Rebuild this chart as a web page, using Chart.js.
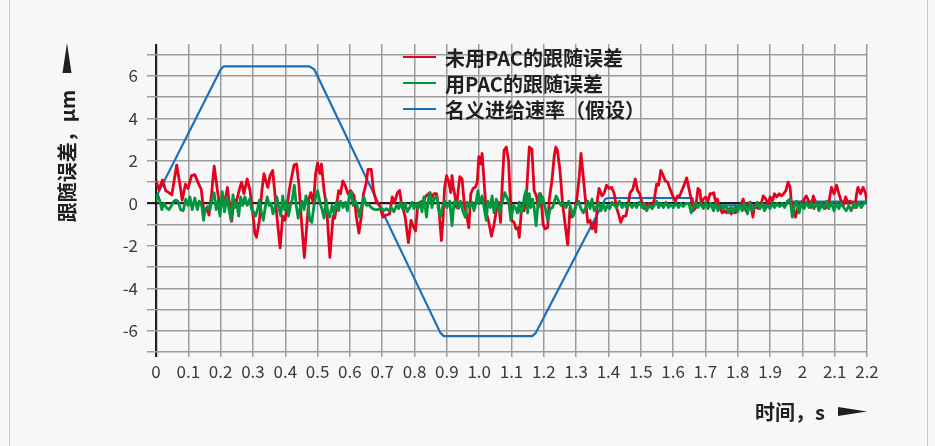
<!DOCTYPE html>
<html>
<head>
<meta charset="utf-8">
<script src="https://cdn.jsdelivr.net/npm/chart.js@4/dist/chart.umd.min.js"></script>
<style>
    html, body { margin: 0; padding: 0; background: #f7f7f7; }
    #wrap { width: 935px; height: 446px; }
</style>
</head>
<body>
<div id="wrap"><canvas id="errChart" width="935" height="446"></canvas></div>
<script>
// axis ticks
const xTickVals = [0, 0.1, 0.2, 0.3, 0.4, 0.5, 0.6, 0.7, 0.8, 0.9, 1.0, 1.1, 1.2, 1.3, 1.4, 1.5, 1.6, 1.7, 1.8, 1.9, 2.0, 2.1, 2.2];
const xTickLabels = ['0', '0.1', '0.2', '0.3', '0.4', '0.5', '0.6', '0.7', '0.8', '0.9', '1.0', '1.1', '1.2', '1.3', '1.4', '1.5', '1.6', '1.7', '1.8', '1.9', '2', '2.1', '2.2'];
const yTickVals = [-7, -6, -5, -4, -3, -2, -1, 0, 1, 2, 3, 4, 5, 6, 7];
const yTickLabels = ['-6', '-4', '-2', '0', '2', '4', '6'];

const seriesNames = ['未用PAC的跟随误差', '用PAC的跟随误差', '名义进给速率（假设）'];
const yTitle = '跟随误差，μm';
const xTitle = '时间，s';

// following error without PAC (time in s, error in µm)
const redT = [0.000, 0.009, 0.020, 0.030, 0.040, 0.049, 0.064, 0.074, 0.081, 0.091, 0.099, 0.110, 0.120, 0.131, 0.140, 0.148, 0.157, 0.164, 0.172, 0.180,
    0.190, 0.199, 0.207, 0.214, 0.221, 0.227, 0.234, 0.241, 0.249, 0.258, 0.265, 0.272, 0.282, 0.291, 0.298, 0.306, 0.311, 0.320, 0.327, 0.334,
    0.340, 0.346, 0.353, 0.361, 0.368, 0.375, 0.384, 0.392, 0.399, 0.406, 0.412, 0.420, 0.427, 0.435, 0.442, 0.451, 0.459, 0.466, 0.473, 0.479,
    0.487, 0.494, 0.500, 0.507, 0.512, 0.520, 0.528, 0.538, 0.548, 0.553, 0.558, 0.565, 0.571, 0.578, 0.585, 0.594, 0.602, 0.613, 0.620, 0.628,
    0.635, 0.642, 0.650, 0.656, 0.666, 0.673, 0.682, 0.692, 0.702, 0.713, 0.723, 0.731, 0.738, 0.747, 0.754, 0.759, 0.764, 0.771, 0.781, 0.789,
    0.798, 0.803, 0.809, 0.816, 0.826, 0.836, 0.847, 0.854, 0.860, 0.868, 0.875, 0.883, 0.888, 0.893, 0.899, 0.906, 0.912, 0.916, 0.919, 0.925,
    0.930, 0.935, 0.940, 0.947, 0.955, 0.960, 0.968, 0.974, 0.981, 0.988, 0.994, 0.999, 1.005, 1.009, 1.015, 1.022, 1.030, 1.038, 1.046, 1.053,
    1.060, 1.066, 1.071, 1.077, 1.084, 1.091, 1.095, 1.101, 1.108, 1.114, 1.120, 1.124, 1.132, 1.139, 1.146, 1.155, 1.163, 1.170, 1.177, 1.183,
    1.190, 1.198, 1.204, 1.212, 1.217, 1.225, 1.232, 1.237, 1.242, 1.250, 1.258, 1.266, 1.274, 1.281, 1.287, 1.294, 1.302, 1.310, 1.315, 1.322,
    1.328, 1.336, 1.343, 1.350, 1.356, 1.361, 1.366, 1.371, 1.380, 1.387, 1.394, 1.402, 1.410, 1.418, 1.425, 1.433, 1.438, 1.446, 1.454, 1.462,
    1.467, 1.475, 1.483, 1.490, 1.497, 1.504, 1.511, 1.518, 1.526, 1.535, 1.542, 1.549, 1.555, 1.562, 1.567, 1.576, 1.583, 1.590, 1.599, 1.607,
    1.614, 1.619, 1.627, 1.635, 1.642, 1.649, 1.656, 1.663, 1.670, 1.677, 1.683, 1.687, 1.694, 1.701, 1.708, 1.714, 1.721, 1.726, 1.732, 1.737,
    1.745, 1.752, 1.759, 1.765, 1.773, 1.780, 1.786, 1.793, 1.800, 1.809, 1.817, 1.825, 1.832, 1.839, 1.847, 1.852, 1.858, 1.866, 1.873, 1.879,
    1.887, 1.894, 1.900, 1.907, 1.914, 1.921, 1.928, 1.935, 1.942, 1.949, 1.956, 1.962, 1.966, 1.972, 1.979, 1.986, 1.992, 1.998, 2.006, 2.012,
    2.020, 2.027, 2.034, 2.041, 2.046, 2.054, 2.062, 2.069, 2.075, 2.082, 2.090, 2.098, 2.106, 2.113, 2.120, 2.127, 2.134, 2.141, 2.147, 2.154,
    2.162, 2.168, 2.172, 2.180, 2.188, 2.196, 2.200];
const redV = [1.05, 0.65, 1.1, 0.6, 0.5, 0.4, 1.8, 0.9, 0.15, 0.9, 0.7, 1.3, 1.35, 0.95, 0.65, -0.4, -0.25, -0.55, 0.45, 1.75,
    0.6, -0.3, 0.3, 0.15, 0.75, 0, -0.85, 0.15, 0.1, 0.65, 1.0, 0.45, 1.15, 0.6, -0.25, -1.4, -1.6, -0.8, 0.5, 1.4,
    1.05, 0.75, 1.3, 1.55, 0.45, -0.75, -2.1, -0.6, -0.8, -0.1, 0.6, 1.25, 1.8, 1.85, 0.9, -1.0, -2.55, -1.15, 0.2, 0.5,
    0, 1.4, 1.9, 1.4, 1.85, 0.6, -0.2, -2.55, -0.6, -0.7, -0.2, 0.6, 0.45, 1.05, 0.85, 0.45, 0.6, 0.35, -0.65, -1.4,
    -0.65, 0.45, 0.9, 1.6, 1.6, 0.6, 0.05, -0.1, -0.65, -0.55, -0.5, 0.3, 0.05, 0.5, 0.6, 0.05, -0.2, -0.65, -1.85, -0.8,
    -1.15, -1.3, -0.25, 0.05, 0.1, 0.35, 0.5, 0.3, 0.45, 0.45, -0.2, -1.75, -0.8, 0.75, 1.3, 1.0, 0.5, 1.3, 0.85, 0.35,
    -0.2, 0.6, 1.25, 1.15, -0.2, -0.45, -1.15, 0.45, 0.7, 0.75, 1.0, 2.2, 1.85, 2.35, 1.05, -0.45, -0.9, -1.55, -1.0, -0.35,
    0.05, -0.9, 0.75, 2.5, 2.65, 2.0, 0.6, -0.8, -0.9, -1.2, -1.15, -1.6, -0.1, -0.35, 0.35, 2.65, 2.55, 0.6, 0.35, -0.2,
    0.45, -1.0, -1.2, -1.15, 0.2, 1.05, 2.2, 2.65, 2.5, 1.55, 0, -1.0, -1.95, -0.2, -0.65, -0.45, 0.2, 1.3, 2.35, 1.25,
    0.3, -0.9, -0.8, -1.2, -0.9, -1.35, 0.2, 0.7, 0.35, 0.5, 0.85, 0.7, 0.75, 0.45, -0.2, -0.6, -0.9, -0.6, -0.6, 0.05,
    0.5, 0.65, 1.15, 0.6, 0.45, 0, -0.25, -0.1, 0, -0.2, 0.2, 0.9, 0.85, 1.55, 1.4, 1.05, 1.0, 0.7, 0.35, 0.1,
    0.35, 0.3, 0.6, 0.9, 1.2, 0.7, 0.2, -0.35, -0.2, 0.7, 0.6, 0, 0.2, 0.3, 0.1, 0.45, 0.45, 0.5, 0, 0.2,
    -0.2, -0.45, -0.35, -0.45, -0.25, -0.5, -0.4, -0.45, -0.25, -0.1, 0.2, -0.35, 0, 0.05, -0.65, -0.1, -0.2, -0.25, 0, 0.35,
    0.2, -0.1, 0.3, 0.1, 0.45, 0.3, 0.45, 0.35, 0.45, 0.6, 1.0, 0.75, 0.05, -0.2, -0.65, -0.2, -0.1, 0.05, 0.2, 0.35,
    0.1, -0.2, 0.35, 0.05, -0.1, -0.25, 0, -0.25, -0.2, 0.05, 0.75, 0.45, 0.85, 0.45, 0.1, -0.1, 0.3, 0, 0.1, 0.05,
    -0.2, 0.45, 0.75, 0.45, 0.75, 0.45, 0];

// following error with PAC
const greenT = [0.000, 0.005, 0.012, 0.018, 0.025, 0.032, 0.040, 0.048, 0.055, 0.062, 0.068, 0.076, 0.084, 0.092, 0.099, 0.105, 0.112, 0.120, 0.128, 0.134,
    0.142, 0.147, 0.152, 0.160, 0.167, 0.175, 0.180, 0.186, 0.192, 0.198, 0.205, 0.212, 0.220, 0.226, 0.232, 0.238, 0.244, 0.250, 0.256, 0.262,
    0.268, 0.275, 0.282, 0.290, 0.296, 0.302, 0.308, 0.314, 0.320, 0.326, 0.332, 0.338, 0.344, 0.350, 0.356, 0.362, 0.368, 0.374, 0.380, 0.386,
    0.392, 0.398, 0.404, 0.410, 0.416, 0.422, 0.428, 0.434, 0.440, 0.446, 0.452, 0.458, 0.464, 0.470, 0.476, 0.482, 0.488, 0.494, 0.500, 0.508,
    0.514, 0.520, 0.526, 0.532, 0.537, 0.545, 0.551, 0.558, 0.565, 0.571, 0.579, 0.586, 0.592, 0.599, 0.604, 0.610, 0.617, 0.625, 0.630, 0.635,
    0.643, 0.651, 0.658, 0.666, 0.676, 0.687, 0.697, 0.705, 0.713, 0.720, 0.728, 0.736, 0.744, 0.751, 0.757, 0.764, 0.771, 0.777, 0.785, 0.792,
    0.798, 0.805, 0.810, 0.817, 0.823, 0.829, 0.837, 0.842, 0.848, 0.854, 0.860, 0.868, 0.873, 0.880, 0.886, 0.893, 0.900, 0.909, 0.916, 0.922,
    0.928, 0.936, 0.942, 0.949, 0.957, 0.963, 0.970, 0.978, 0.984, 0.991, 0.996, 1.001, 1.009, 1.015, 1.022, 1.027, 1.035, 1.040, 1.046, 1.053,
    1.058, 1.063, 1.070, 1.079, 1.088, 1.093, 1.098, 1.106, 1.112, 1.119, 1.124, 1.129, 1.135, 1.140, 1.145, 1.150, 1.155, 1.160, 1.165, 1.170,
    1.176, 1.181, 1.186, 1.191, 1.196, 1.204, 1.212, 1.220, 1.227, 1.238, 1.246, 1.253, 1.260, 1.269, 1.277, 1.284, 1.291, 1.300, 1.308, 1.315,
    1.322, 1.328, 1.336, 1.343, 1.349, 1.356, 1.363, 1.370, 1.377, 1.384, 1.390, 1.397, 1.404, 1.411, 1.418, 1.425, 1.434, 1.442, 1.449, 1.456,
    1.464, 1.473, 1.480, 1.487, 1.495, 1.504, 1.511, 1.518, 1.527, 1.535, 1.542, 1.549, 1.555, 1.562, 1.570, 1.578, 1.586, 1.593, 1.601, 1.609,
    1.617, 1.624, 1.631, 1.640, 1.649, 1.656, 1.663, 1.670, 1.677, 1.685, 1.694, 1.701, 1.708, 1.716, 1.725, 1.732, 1.739, 1.747, 1.755, 1.763,
    1.771, 1.780, 1.786, 1.793, 1.800, 1.807, 1.814, 1.821, 1.830, 1.838, 1.845, 1.852, 1.861, 1.869, 1.876, 1.883, 1.891, 1.900, 1.907, 1.914,
    1.922, 1.930, 1.938, 1.945, 1.953, 1.962, 1.969, 1.976, 1.982, 1.990, 1.997, 2.005, 2.013, 2.020, 2.028, 2.036, 2.044, 2.051, 2.058, 2.067,
    2.075, 2.082, 2.090, 2.098, 2.106, 2.113, 2.120, 2.128, 2.136, 2.144, 2.151, 2.160, 2.168, 2.175, 2.182, 2.191, 2.200];
const greenV = [0.1, 0.4, 0.1, -0.3, 0, -0.2, -0.3, -0.1, 0.1, 0.15, 0.1, -0.3, -0.35, 0.2, -0.1, 0.3, -0.3, 0.25, -0.3, 0.1,
    -0.15, -0.8, -0.3, -0.15, -0.3, 0.3, 0.5, -0.3, 0.1, -0.6, 0.55, -0.4, 0.3, -0.3, -0.8, 0.4, -0.2, 0, -0.6, 0.3,
    -0.1, 0.3, -0.1, 0.2, -0.3, -0.4, -0.6, -0.3, 0.15, -0.4, -0.8, -0.2, 0.3, -0.1, 0, -0.5, -0.2, 0.3, -0.2, -0.6,
    0.35, -0.3, 0.1, -0.6, -0.1, 0.2, 0.85, -0.1, -0.7, -0.2, 0.1, -0.3, 0.35, 0, -0.8, -0.9, -0.2, 0.3, 0.6, 0,
    -0.3, -0.7, 0.2, -0.45, -0.65, -0.1, -0.5, 0.05, -0.35, 0.1, -0.2, 0.05, -0.35, 0.45, 0.5, -0.1, 0.1, -0.25, -0.65, -0.2,
    0.3, -0.1, -0.05, -0.2, -0.3, -0.3, -0.2, -0.35, -0.25, -0.35, -0.2, -0.4, -0.1, -0.25, 0.05, -0.3, 0, -0.4, -0.2, 0.05,
    -0.25, 0, -0.25, 0.05, -0.4, 0.3, -0.65, 0.1, 0.5, -0.2, 0.2, 0.35, -0.2, -0.65, -0.2, 0.1, -0.2, 0.1, -1.05, 0.05,
    0.1, -0.25, 0.1, -0.35, -0.65, 0.05, -0.2, 0.05, -0.35, 0.1, 0.6, 0, 0.35, -0.2, -0.8, 0.1, -0.2, 0.35, -0.45, 0.2,
    -0.2, -0.45, 0, 0.5, 0.2, -0.1, -0.8, -0.1, -0.2, -0.45, 0.05, -0.45, -0.2, 0.35, 0.6, -0.45, 0.45, -0.2, 0.2, -0.2,
    -1.05, -0.2, 0.45, 0, 0.3, -0.2, -0.8, -0.25, -0.2, 0.35, 0.1, -0.1, 0, -0.2, 0.1, -0.25, -0.6, -0.1, 0.1, -0.25,
    -0.45, -0.25, 0.1, -0.25, 0.2, -0.35, -0.2, 0.05, -0.35, 0, -0.35, -0.1, -0.25, 0.05, -0.1, -0.2, 0.1, -0.2, 0, -0.2,
    0, -0.2, 0, -0.2, 0.05, -0.2, 0, -0.35, -0.1, -0.25, -0.1, 0.1, -0.2, 0, -0.2, 0.05, -0.2, -0.05, -0.2, 0,
    -0.2, 0, -0.15, 0, 0, -0.45, -0.2, 0, -0.2, 0, -0.25, 0.05, -0.25, 0, -0.35, 0, -0.35, -0.1, -0.25, -0.1,
    -0.45, -0.2, -0.4, -0.1, -0.4, -0.1, -0.35, 0, -0.5, 0, -0.35, -0.2, 0.05, -0.25, 0, -0.35, -0.1, -0.25, 0, -0.2,
    0, -0.15, 0, -0.2, 0.1, 0.2, -0.65, -0.1, 0.1, -0.45, 0, -0.25, 0.05, -0.2, 0, -0.25, 0.05, -0.35, 0, -0.25,
    0.1, -0.25, 0.05, -0.35, 0, -0.25, 0, -0.2, -0.35, -0.1, -0.35, 0, -0.2, 0.05, -0.2, 0, 0.1];

// nominal feed rate (assumed), same µm scale
const blueT = [0, 0.2, 0.21, 0.475, 0.49, 0.88, 0.89, 1.165, 1.175, 1.39, 1.40, 1.66, 1.665, 1.95, 1.955, 2.2];
const blueV = [0.28, 6.3, 6.45, 6.45, 6.3, -6.1, -6.25, -6.25, -6.1, 0.2, 0.25, 0.25, -0.1, -0.1, 0.08, 0.08];

const seriesColors = ['#e6001e', '#00963f', '#1a6fba'];
const FONT = "'Noto Sans CJK SC', 'Noto Sans', sans-serif";
const INK = '#231f20';
const GRID = '#9c9c9c';

function toPoints(ts, vs) {
    return ts.map((t, i) => ({ x: t, y: vs[i] }));
}

function isZero(c) {
    return c.tick && c.tick.value === 0;
}

// background, frame, legend, axis titles and arrows
const decorPlugin = {
    id: 'decor',
    beforeDraw(chart) {
        const ctx = chart.ctx;
        ctx.save();
        ctx.fillStyle = '#f7f7f7';
        ctx.fillRect(0, 0, chart.width, chart.height);
        ctx.strokeStyle = '#c6c6c6';
        ctx.lineWidth = 1;
        ctx.beginPath();
        ctx.moveTo(9.5, 0); ctx.lineTo(9.5, chart.height);
        ctx.moveTo(927.5, 0); ctx.lineTo(927.5, chart.height);
        ctx.stroke();
        ctx.restore();
    },
    afterDraw(chart) {
        const ctx = chart.ctx;
        ctx.save();

        // legend
        ctx.font = 'bold 20px ' + FONT;
        ctx.textBaseline = 'middle';
        ctx.textAlign = 'left';
        seriesNames.forEach((name, i) => {
            const y = 57 + i * 26;
            ctx.strokeStyle = seriesColors[i];
            ctx.lineWidth = 2;
            ctx.beginPath();
            ctx.moveTo(403, y);
            ctx.lineTo(436, y);
            ctx.stroke();
            ctx.fillStyle = INK;
            ctx.fillText(name, 445, y + 1);
        });

        // y title + arrow
        ctx.fillStyle = INK;
        ctx.save();
        ctx.translate(67, 156);
        ctx.rotate(-Math.PI / 2);
        ctx.textAlign = 'center';
        ctx.fillText(yTitle, 0, 0);
        ctx.restore();
        ctx.beginPath();
        ctx.moveTo(67, 43);
        ctx.lineTo(71.5, 73);
        ctx.lineTo(62.5, 73);
        ctx.closePath();
        ctx.fill();

        // x title + arrow
        ctx.textAlign = 'left';
        ctx.fillText(xTitle, 755, 412);
        ctx.beginPath();
        ctx.moveTo(838, 407);
        ctx.lineTo(867, 411.5);
        ctx.lineTo(838, 416);
        ctx.closePath();
        ctx.fill();

        ctx.restore();
    }
};

const ctx = document.getElementById('errChart').getContext('2d');
new Chart(ctx, {
    type: 'line',
    data: {
        datasets: [{
            label: seriesNames[0],
            data: toPoints(redT, redV),
            borderColor: seriesColors[0],
            borderWidth: 2.8,
            order: 1
        }, {
            label: seriesNames[1],
            data: toPoints(greenT, greenV),
            borderColor: seriesColors[1],
            borderWidth: 2.8,
            order: 0
        }, {
            label: seriesNames[2],
            data: toPoints(blueT, blueV),
            borderColor: seriesColors[2],
            borderWidth: 2.2,
            order: 2
        }]
    },
    options: {
        responsive: false,
        animation: false,
        devicePixelRatio: 1,
        layout: {
            padding: { left: 0, top: 44, right: 68, bottom: 0 }
        },
        elements: {
            point: { radius: 0 },
            line: { tension: 0, borderJoinStyle: 'round' }
        },
        plugins: {
            legend: { display: false },
            tooltip: { enabled: false }
        },
        scales: {
            x: {
                type: 'linear',
                min: 0,
                max: 2.2,
                afterBuildTicks: axis => {
                    axis.ticks = xTickVals.map(v => ({ value: v }));
                },
                afterFit: axis => { axis.height = 94; },
                ticks: {
                    autoSkip: false,
                    maxRotation: 0,
                    padding: 4,
                    color: '#3a3a3a',
                    font: { family: FONT, size: 17 },
                    callback: (value, index) => xTickLabels[index]
                },
                grid: {
                    color: c => isZero(c) ? INK : GRID,
                    lineWidth: c => isZero(c) ? 2.2 : 1.5,
                    tickLength: 5
                },
                border: { display: false }
            },
            y: {
                min: -7,
                max: 7.5,
                afterBuildTicks: axis => {
                    axis.ticks = yTickVals.map(v => ({ value: v }));
                },
                afterFit: axis => { axis.width = 156; },
                ticks: {
                    autoSkip: false,
                    padding: 9,
                    color: '#3a3a3a',
                    font: { family: FONT, size: 17 },
                    callback: value => yTickLabels.includes(String(value)) ? String(value) : ''
                },
                grid: {
                    color: c => isZero(c) ? INK : GRID,
                    lineWidth: c => isZero(c) ? 2.2 : 1.5,
                    tickLength: 9
                },
                border: { display: false }
            }
        }
    },
    plugins: [decorPlugin]
});
</script>
</body>
</html>
